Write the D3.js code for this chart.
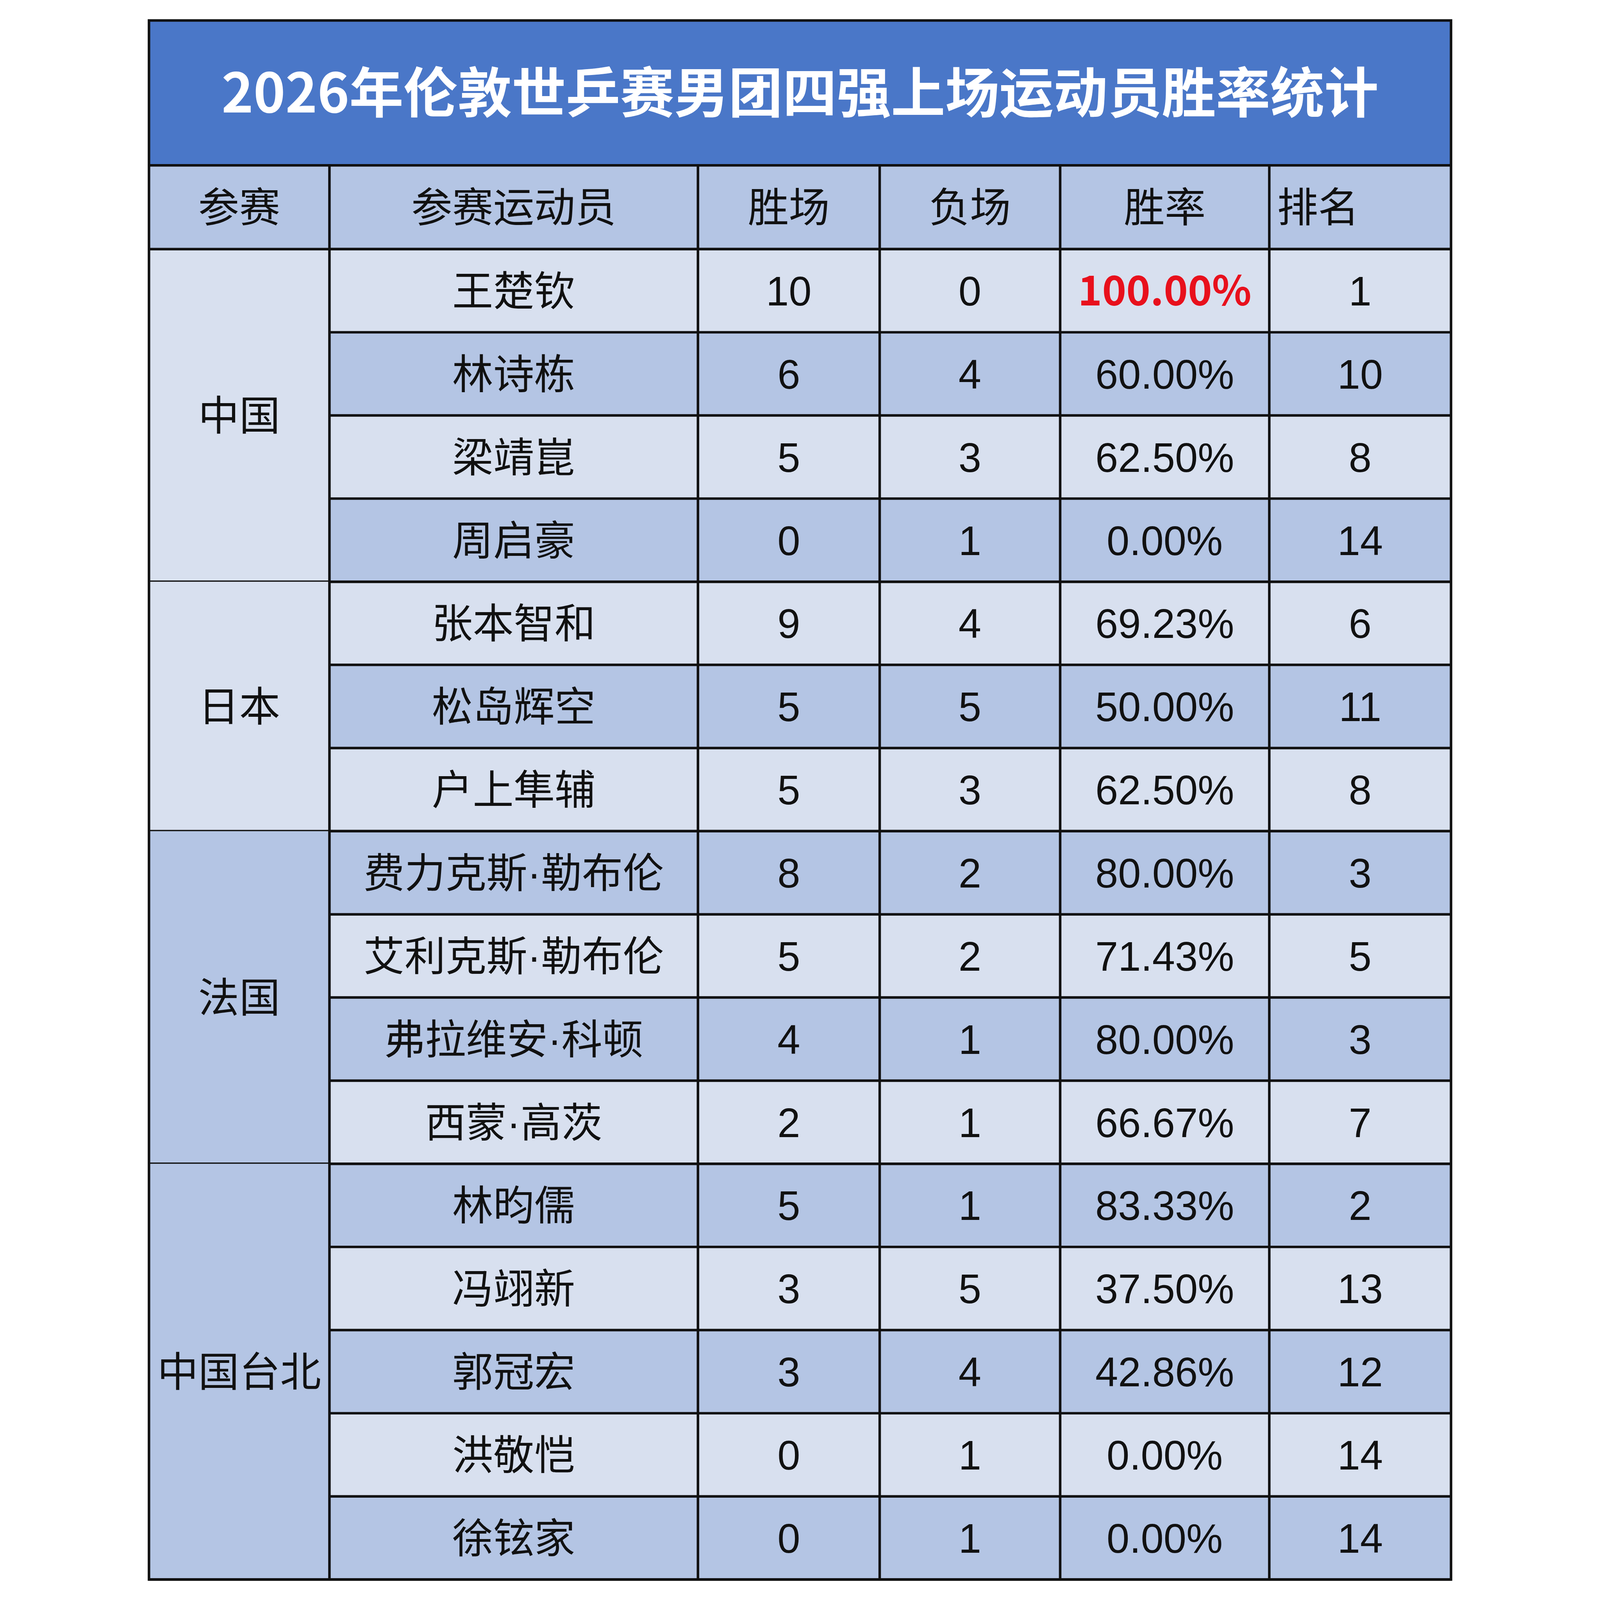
<!DOCTYPE html>
<html><head><meta charset="utf-8">
<script src="https://cdn.jsdelivr.net/npm/d3@7"></script>
<style>html,body{margin:0;padding:0;background:#fff;overflow:hidden}svg{display:block}</style></head>
<body><svg id="c" viewBox="0 0 4264 5080" preserveAspectRatio="xMidYMid meet" style="width:100vw;height:100vh"></svg>
<script>
const title = "2026年伦敦世乒赛男团四强上场运动员胜率统计";
const headers = ["参赛","参赛运动员","胜场","负场","胜率","排名"];
const teams = ["中国","日本","法国","中国台北"];
const teamSizes = [4,3,4,5];
const players = ["王楚钦","林诗栋","梁靖崑","周启豪","张本智和","松岛辉空","户上隼辅","费力克斯·勒布伦","艾利克斯·勒布伦","弗拉维安·科顿","西蒙·高茨","林昀儒","冯翊新","郭冠宏","洪敬恺","徐铉家"];
const wins = [10,6,5,0,9,5,5,8,5,4,2,5,3,3,0,0];
const losses = [0,4,3,1,4,5,3,2,2,1,1,1,5,4,1,1];
const rates = ["100.00%","60.00%","62.50%","0.00%","69.23%","50.00%","62.50%","80.00%","71.43%","80.00%","66.67%","83.33%","37.50%","42.86%","0.00%","0.00%"];
const ranks = [1,10,8,14,6,11,8,3,5,3,7,2,13,12,14,14];

const L=65,R=4199,T=65,titleB=525,headB=791,B=5015;
const colEdges=[L,638,1808,2385,2958,3622,R];
const light="#d8e0ef", dark="#b4c5e4", titleFill="#4a77c8";
const font="'Liberation Sans','Noto Sans CJK SC',sans-serif";
const tfont="'Noto Sans CJK SC','Noto Sans',sans-serif";
const svg=d3.select("#c");
const y=d3.scaleBand().domain(d3.range(players.length)).range([headB,B]);
const rh=y.bandwidth();

svg.append("rect").attr("x",L).attr("y",T).attr("width",R-L).attr("height",titleB-T).attr("fill",titleFill);
svg.append("text").attr("x",(L+R)/2).attr("y",(T+titleB)/2).attr("dy","0.36em").attr("text-anchor","middle")
  .attr("font-family",tfont).attr("font-weight","bold").attr("font-size",172).attr("fill","#fff").text(title);

svg.append("rect").attr("x",L).attr("y",titleB).attr("width",R-L).attr("height",headB-titleB).attr("fill",dark);
headers.forEach((h,i)=>{
  const cx = i===5 ? colEdges[5]+25 : (colEdges[i]+colEdges[i+1])/2;
  svg.append("text").attr("x",cx).attr("y",(titleB+headB)/2).attr("dy","0.36em")
    .attr("text-anchor",i===5?"start":"middle").attr("font-family",tfont).attr("font-size",130).attr("fill","#111").text(h);
});

players.forEach((p,i)=>{
  const fill = i%2===0?light:dark;
  svg.append("rect").attr("x",colEdges[1]).attr("y",y(i)).attr("width",R-colEdges[1]).attr("height",rh).attr("fill",fill);
  const vals=[p,wins[i],losses[i],rates[i],ranks[i]];
  vals.forEach((v,j)=>{
    const c=j+1, cx=(colEdges[c]+colEdges[c+1])/2;
    const red = j===3 && rates[i]==="100.00%";
    svg.append("text").attr("x",cx).attr("y",y(i)+rh/2).attr("dy","0.36em").attr("text-anchor","middle")
      .attr("font-family",red?tfont:font).attr("font-size",130).attr("font-weight",red?"bold":"normal")
      .attr("fill",red?"#e8101c":"#111").text(v);
  });
});

let start=0;
const teamFills=[light,light,dark,dark];
teams.forEach((t,k)=>{
  const y0=y(start), y1=y(start+teamSizes[k]-1)+rh;
  svg.append("rect").attr("x",L).attr("y",y0).attr("width",colEdges[1]-L).attr("height",y1-y0).attr("fill",teamFills[k]);
  svg.append("text").attr("x",(L+colEdges[1])/2).attr("y",(y0+y1)/2).attr("dy","0.36em").attr("text-anchor","middle")
    .attr("font-family",tfont).attr("font-size",130).attr("fill","#111").text(t);
  svg.append("line").attr("x1",L).attr("x2",R).attr("y1",y1).attr("y2",y1).attr("stroke","#111").attr("stroke-width",8);
  start+=teamSizes[k];
});

const sw=8;
players.forEach((p,i)=>{
  svg.append("line").attr("x1",colEdges[1]).attr("x2",R).attr("y1",y(i)).attr("y2",y(i)).attr("stroke","#111").attr("stroke-width",sw);
});
[headB,titleB].forEach(v=>svg.append("line").attr("x1",L).attr("x2",R).attr("y1",v).attr("y2",v).attr("stroke","#111").attr("stroke-width",sw));
colEdges.slice(1,-1).forEach(x=>{
  svg.append("line").attr("x1",x).attr("x2",x).attr("y1",titleB).attr("y2",B).attr("stroke","#111").attr("stroke-width",sw);
});
svg.append("rect").attr("x",L).attr("y",T).attr("width",R-L).attr("height",B-T).attr("fill","none").attr("stroke","#111").attr("stroke-width",sw);
</script></body></html>
